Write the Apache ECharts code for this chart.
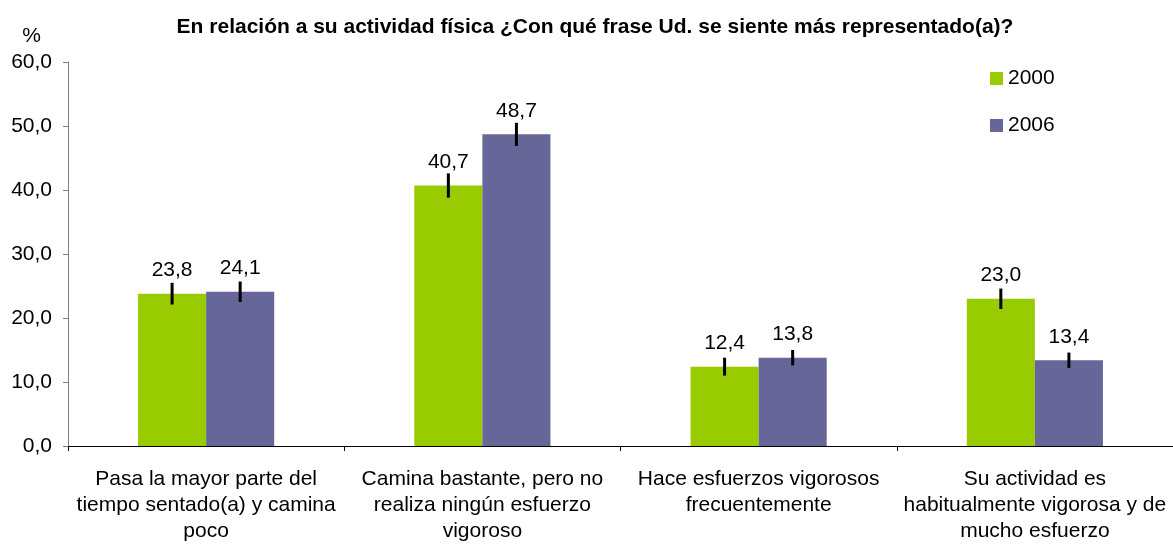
<!DOCTYPE html>
<html>
<head>
<meta charset="utf-8">
<script src="https://cdn.jsdelivr.net/npm/echarts@6/dist/echarts.min.js"></script>
<style>
  html, body { margin: 0; padding: 0; background: #fff; }
  #chart { width: 1173px; height: 544px; }
</style>
</head>
<body>
<div id="chart"></div>
<script>
// categories and values
var categories = [
    'Pasa la mayor parte del\ntiempo sentado(a) y camina\npoco',
    'Camina bastante, pero no\nrealiza ningún esfuerzo\nvigoroso',
    'Hace esfuerzos vigorosos\nfrecuentemente',
    'Su actividad es\nhabitualmente vigorosa y de\nmucho esfuerzo'
];
var values2000 = [23.8, 40.7, 12.4, 23.0];
var values2006 = [24.1, 48.7, 13.8, 13.4];
// half-length of the error bars
var err2000 = [1.7, 1.9, 1.4, 1.6];
var err2006 = [1.6, 1.8, 1.2, 1.2];
var seriesNames = ['2000', '2006'];

var font = 'Arial, "Liberation Sans", sans-serif';

function fmt(v) {
    return v.toFixed(1).replace('.', ',');
}

// error bar data: [categoryIndex, low, high, seriesIndex]
function errData(vals, errs, s) {
    return vals.map(function (v, i) {
        return [i, v - errs[i], v + errs[i], s];
    });
}

function renderErr(params, api) {
    var idx = api.value(0);
    var s = api.value(3);
    var lo = api.coord([idx, api.value(1)]);
    var hi = api.coord([idx, api.value(2)]);
    var bw = api.size([1, 0])[0] * 0.2464;
    var x = lo[0] + (s === 0 ? -bw / 2 : bw / 2);
    return {
        type: 'line',
        shape: { x1: x, y1: hi[1], x2: x, y2: lo[1] },
        style: { stroke: '#000', lineWidth: 3 }
    };
}

var myChart = echarts.init(document.getElementById('chart'));
var opt = {
    animation: false,
    title: {
        text: 'En relación a su actividad física ¿Con qué frase Ud. se siente más representado(a)?',
        left: 590,
        textAlign: 'center',
        top: 12,
        textStyle: { fontFamily: font, fontSize: 21, fontWeight: 'bold', color: '#000' }
    },
    legend: {
        orient: 'vertical',
        left: 985,
        top: 63,
        itemGap: 26,
        itemWidth: 13,
        itemHeight: 13,
        icon: 'rect',
        data: seriesNames,
        textStyle: { fontFamily: font, fontSize: 21, color: '#000', padding: [0, 0, 0, 0] }
    },
    grid: { left: 68, right: 0, top: 62, bottom: 94, containLabel: false },
    xAxis: {
        type: 'category',
        data: categories,
        axisLine: { lineStyle: { color: '#000', width: 1 } },
        axisTick: { show: true, length: 5, lineStyle: { color: '#000' } },
        axisLabel: {
            interval: 0,
            margin: 20,
            fontFamily: font,
            fontSize: 21,
            lineHeight: 26,
            color: '#000',
            align: 'center'
        }
    },
    yAxis: {
        type: 'value',
        min: 0,
        max: 60,
        interval: 10,
        name: '%',
        nameLocation: 'end',
        nameGap: 15,
        nameTextStyle: { fontFamily: font, fontSize: 21, color: '#000', align: 'right', padding: [0, 27, 0, 0] },
        axisLine: { show: true, lineStyle: { color: '#808080', width: 1 } },
        axisTick: { show: true, length: 5, lineStyle: { color: '#808080' } },
        splitLine: { show: false },
        axisLabel: {
            fontFamily: font,
            fontSize: 21,
            color: '#000',
            margin: 16,
            formatter: function (v) { return fmt(v); }
        }
    },
    series: [{
        name: '2000',
        type: 'bar',
        data: values2000,
        barWidth: '24.64%',
        barGap: '0%',
        itemStyle: { color: '#99CC00' },
        label: {
            show: true,
            position: 'top',
            distance: 13,
            fontFamily: font,
            fontSize: 21,
            color: '#000',
            formatter: function (p) { return fmt(p.value); }
        }
    }, {
        name: '2006',
        type: 'bar',
        data: values2006,
        barWidth: '24.64%',
        barGap: '0%',
        itemStyle: { color: '#666699' },
        label: {
            show: true,
            position: 'top',
            distance: 13,
            fontFamily: font,
            fontSize: 21,
            color: '#000',
            formatter: function (p) { return fmt(p.value); }
        }
    }, {
        type: 'custom',
        renderItem: renderErr,
        data: errData(values2000, err2000, 0).concat(errData(values2006, err2006, 1)),
        encode: { x: 0, y: [1, 2] },
        z: 10,
        silent: true
    }]
};
myChart.setOption(opt);
</script>
</body>
</html>
